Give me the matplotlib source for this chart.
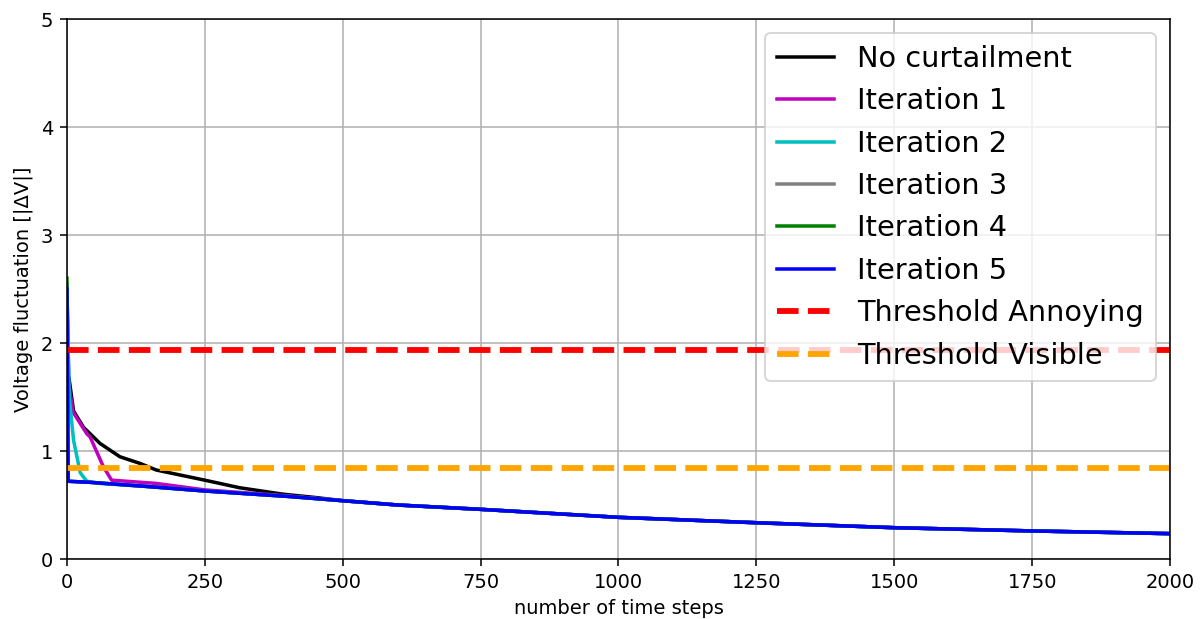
import numpy as np
import matplotlib
matplotlib.use("Agg")
import matplotlib.pyplot as plt

# -----------------------------
# Data (sorted duration curves)
# -----------------------------
# common tail shared by all runs once they have settled
tail_x = [500, 600, 750, 1000, 1250, 1500, 1750, 2000]
tail_y = [0.54, 0.50, 0.46, 0.386, 0.336, 0.29, 0.26, 0.235]

no_curt_x = [0, 3, 12, 30, 42, 60, 96, 132, 162, 205, 250, 313, 392, 450] + tail_x
no_curt_y = [2.5, 1.7, 1.37, 1.22, 1.16, 1.07, 0.947, 0.886, 0.824, 0.778, 0.73, 0.66, 0.60, 0.57] + tail_y

iter1_x = [0, 2, 11, 36, 42, 66, 81, 162, 250, 400] + tail_x
iter1_y = [2.5, 1.66, 1.36, 1.16, 1.13, 0.855, 0.73, 0.70, 0.64, 0.585] + tail_y

iter2_x = [0, 4, 12, 24, 36, 60, 150, 250, 400] + tail_x
iter2_y = [2.5, 1.5, 1.1, 0.80, 0.72, 0.70, 0.67, 0.63, 0.58] + tail_y

iter3_x = [0, 2, 42, 150, 250, 400] + tail_x
iter3_y = [2.55, 0.72, 0.71, 0.67, 0.63, 0.58] + tail_y

iter4_x = [0, 2, 42, 150, 250, 400] + tail_x
iter4_y = [2.6, 0.72, 0.71, 0.67, 0.63, 0.58] + tail_y

iter5_x = [0, 2, 42, 150, 250, 400] + tail_x
iter5_y = [2.5, 0.72, 0.71, 0.67, 0.63, 0.58] + tail_y

threshold_annoying = 1.935
threshold_visible = 0.84

# -----------------------------
# Figure
# -----------------------------
fig = plt.figure(figsize=(1202 / 140, 619 / 140), dpi=140)
ax = fig.add_axes([0.0557, 0.0969, 0.9177, 0.8724])

ax.plot(no_curt_x, no_curt_y, color="k", lw=1.8, label="No curtailment")
ax.plot(iter1_x, iter1_y, color="m", lw=1.8, label="Iteration 1")
ax.plot(iter2_x, iter2_y, color="c", lw=1.8, label="Iteration 2")
ax.plot(iter3_x, iter3_y, color="gray", lw=1.8, label="Iteration 3")
ax.plot(iter4_x, iter4_y, color="g", lw=1.8, label="Iteration 4")
ax.plot(iter5_x, iter5_y, color="b", lw=1.8, label="Iteration 5")
ax.axhline(threshold_annoying, color="r", ls="--", lw=3, label="Threshold Annoying")
ax.axhline(threshold_visible, color="orange", ls="--", lw=3, label="Threshold Visible")

ax.set_xlim(0, 2000)
ax.set_ylim(0, 5)
ax.set_xticks(np.arange(0, 2001, 250))
ax.set_yticks(np.arange(0, 6, 1))
ax.grid(True)
ax.set_xlabel("number of time steps")
ax.set_ylabel("Voltage fluctuation [|ΔV|]")
ax.legend(loc="upper right", fontsize=14.8)

fig.savefig("out.png", dpi=140)
